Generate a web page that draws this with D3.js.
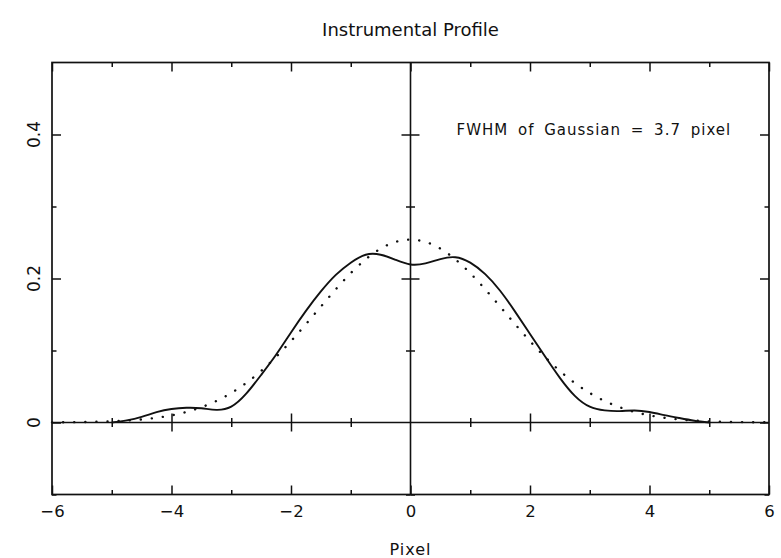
<!DOCTYPE html>
<html>
<head>
<meta charset="utf-8">
<script src="https://cdn.jsdelivr.net/npm/d3@7"></script>
<style>
  body { margin: 0; background: #fff; }
  text { font-family: "DejaVu Sans", sans-serif; fill: #111; }
</style>
</head>
<body>
<svg id="chart" width="781" height="558"></svg>
<script>
// measured instrumental profile (solid)
const profileX = [-5, -4.75, -4.5, -4.25, -4, -3.75, -3.5, -3.25, -3, -2.75, -2.5, -2.25, -2,
  -1.75, -1.5, -1.25, -1, -0.75, -0.5, -0.25, 0, 0.25, 0.5, 0.75, 1, 1.25, 1.5, 1.75, 2,
  2.25, 2.5, 2.75, 3, 3.25, 3.5, 3.75, 4, 4.25, 4.5, 4.75, 5];
const profileY = [0, 0.003, 0.0078, 0.0143, 0.0188, 0.0205, 0.0198, 0.0176, 0.022, 0.040, 0.066,
  0.094, 0.125, 0.155, 0.182, 0.205, 0.222, 0.233, 0.233, 0.226, 0.2195, 0.221, 0.227, 0.2295,
  0.222, 0.206, 0.183, 0.154, 0.123, 0.092, 0.062, 0.037, 0.022, 0.0168, 0.0158, 0.0167,
  0.0145, 0.0103, 0.0062, 0.0025, 0];

// gaussian fit (dotted)
const gaussX = [-6, -5.5, -5, -4.5, -4, -3.5, -3, -2.5, -2, -1.5, -1, -0.5, 0,
  0.5, 1, 1.5, 2, 2.5, 3, 3.5, 4, 4.5, 5, 5.5, 6];
const gaussY = [0.0002, 0.0006, 0.0016, 0.0042, 0.0099, 0.0212, 0.041, 0.0716, 0.113, 0.161,
  0.2074, 0.2415, 0.254, 0.2415, 0.2074, 0.161, 0.113, 0.0716, 0.041, 0.0212, 0.0099, 0.0042,
  0.0016, 0.0006, 0.0002];

const xMajor = [-6, -4, -2, 0, 2, 4, 6];
const xMinor = [-5, -3, -1, 1, 3, 5];
const yMajor = [0, 0.2, 0.4];
const yMinor = [-0.1, 0.1, 0.3];

const width = 781;
const height = 558;
const margin = { top: 62.5, right: 12, bottom: 63.5, left: 52 };
const ink = "#111";

const svg = d3.select("#chart");

const x = d3.scaleLinear()
  .domain([-6, 6])
  .range([margin.left, width - margin.right]);

const y = d3.scaleLinear()
  .domain([-0.1, 0.5])
  .range([height - margin.bottom, margin.top]);

const fmt = d => (d < 0 ? "\u2212" + (-d) : String(d));

// tick helper: draws an axis with no domain line
function ticks(axis, tx, ty) {
  const g = svg.append("g")
    .attr("transform", `translate(${tx},${ty})`)
    .call(axis);
  g.select(".domain").remove();
  g.selectAll("line").attr("stroke", ink).attr("stroke-width", 1.5);
  return g;
}

const bottom = height - margin.bottom;
const right = width - margin.right;

// frame ticks, pointing inward
ticks(d3.axisTop(x).tickValues(xMajor).tickSize(9).tickFormat(""), 0, bottom);
ticks(d3.axisTop(x).tickValues(xMinor).tickSize(4.5).tickFormat(""), 0, bottom);
ticks(d3.axisBottom(x).tickValues(xMajor).tickSize(9).tickFormat(""), 0, margin.top);
ticks(d3.axisBottom(x).tickValues(xMinor).tickSize(4.5).tickFormat(""), 0, margin.top);
ticks(d3.axisRight(y).tickValues(yMajor).tickSize(9).tickFormat(""), margin.left, 0);
ticks(d3.axisRight(y).tickValues(yMinor).tickSize(4.5).tickFormat(""), margin.left, 0);
ticks(d3.axisLeft(y).tickValues(yMajor).tickSize(9).tickFormat(""), right, 0);
ticks(d3.axisLeft(y).tickValues(yMinor).tickSize(4.5).tickFormat(""), right, 0);

// centre axes through zero, ticks on both sides
svg.append("line")
  .attr("x1", margin.left).attr("x2", right)
  .attr("y1", y(0)).attr("y2", y(0))
  .attr("stroke", ink).attr("stroke-width", 1.6);
svg.append("line")
  .attr("x1", x(0)).attr("x2", x(0))
  .attr("y1", margin.top).attr("y2", bottom)
  .attr("stroke", ink).attr("stroke-width", 1.6);

[d3.axisTop, d3.axisBottom].forEach(a => {
  ticks(a(x).tickValues(xMajor.filter(d => d > -6 && d < 6 && d !== 0)).tickSize(9).tickFormat(""), 0, y(0));
  ticks(a(x).tickValues(xMinor).tickSize(4.5).tickFormat(""), 0, y(0));
});
[d3.axisLeft, d3.axisRight].forEach(a => {
  ticks(a(y).tickValues(yMajor.filter(d => d !== 0)).tickSize(9).tickFormat(""), x(0), 0);
  ticks(a(y).tickValues(yMinor).tickSize(4.5).tickFormat(""), x(0), 0);
});

// frame
svg.append("rect")
  .attr("x", margin.left)
  .attr("y", margin.top)
  .attr("width", right - margin.left)
  .attr("height", bottom - margin.top)
  .attr("fill", "none")
  .attr("stroke", ink)
  .attr("stroke-width", 1.7);

// x tick labels
const xl = svg.append("g")
  .attr("transform", `translate(0,${bottom})`)
  .call(d3.axisBottom(x).tickValues(xMajor).tickSize(0).tickPadding(11).tickFormat(fmt));
xl.select(".domain").remove();
xl.selectAll("text")
  .attr("font-family", "DejaVu Sans, sans-serif")
  .attr("font-size", 16.5)
  .attr("fill", ink);

// y tick labels, rotated
svg.append("g")
  .selectAll("text")
  .data(yMajor)
  .join("text")
  .attr("transform", d => `translate(40,${y(d)}) rotate(-90)`)
  .attr("text-anchor", "middle")
  .style("font-size", "17px")
  .text(d => String(d));

// curves
const profileLine = d3.line()
  .x((d, i) => x(profileX[i]))
  .y(d => y(d))
  .curve(d3.curveNatural);

const gaussLine = d3.line()
  .x((d, i) => x(gaussX[i]))
  .y(d => y(d))
  .curve(d3.curveNatural);

svg.append("path")
  .datum(gaussY)
  .attr("fill", "none")
  .attr("stroke", ink)
  .attr("stroke-width", 2.4)
  .attr("stroke-linecap", "round")
  .attr("stroke-dasharray", "0.1,11")
  .attr("d", gaussLine);

svg.append("path")
  .datum(profileY)
  .attr("fill", "none")
  .attr("stroke", ink)
  .attr("stroke-width", 1.9)
  .attr("d", profileLine);

// titles
svg.append("text")
  .attr("x", (margin.left + right) / 2)
  .attr("y", 36)
  .attr("text-anchor", "middle")
  .style("font-size", "18px")
  .text("Instrumental Profile");

svg.append("text")
  .attr("x", (margin.left + right) / 2)
  .attr("y", 555)
  .attr("text-anchor", "middle")
  .style("font-size", "16px")
  .style("letter-spacing", "1px")
  .text("Pixel");

svg.append("text")
  .attr("x", x(0.77))
  .attr("y", y(0.4))
  .style("font-size", "15px")
  .style("letter-spacing", "1px")
  .style("word-spacing", "4px")
  .text("FWHM of Gaussian = 3.7 pixel");
</script>
</body>
</html>
